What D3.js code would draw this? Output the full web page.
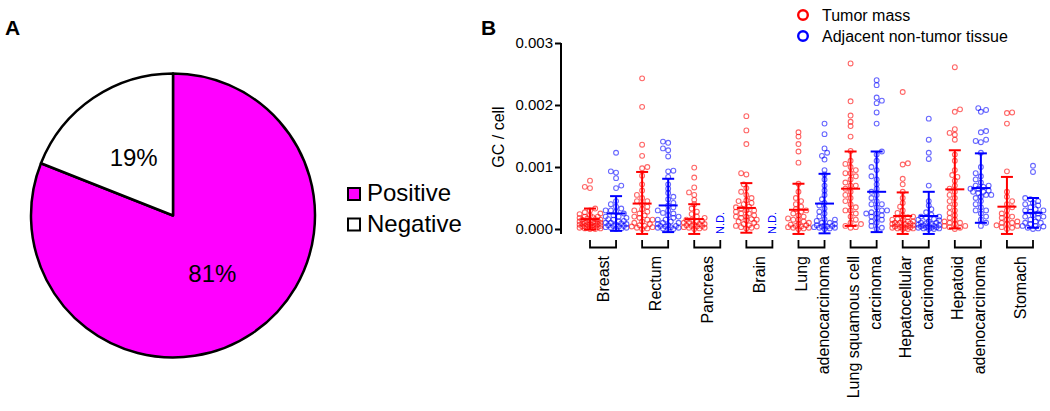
<!DOCTYPE html>
<html><head><meta charset="utf-8">
<script src="https://cdn.jsdelivr.net/npm/d3@7"></script>
<style>
html,body{margin:0;padding:0;background:#fff;}
text{font-family:"Liberation Sans",Arial,sans-serif;}
</style></head>
<body><svg id="chart" width="1050" height="411"></svg>
<script>
// ---------- DATA ----------
const pieLabels = ["Positive", "Negative"];
const pieValues = [81, 19];
const pieColors = ["#ff00ff", "#ffffff"];

const categories = [["Breast"], ["Rectum"], ["Pancreas"], ["Brain"], ["Lung", "adenocarcinoma"],
  ["Lung squamous cell", "carcinoma"], ["Hepatocellular", "carcinoma"], ["Hepatoid", "adenocarcinoma"], ["Stomach"]];
const seriesNames = ["Tumor mass", "Adjacent non-tumor tissue"];
const seriesColors = ["#ff0000", "#0000ff"];
const yTickValues = [0, 1, 2, 3];                 // in units of 0.001 GC/cell
const yTickLabels = ["0.000", "0.001", "0.002", "0.003"];

// values in units of 0.001 GC / cell
const tumorValues = [
  [0.78,0.68,0.66,0.33,0.30,0.27,0.24,0.22,0.20,0.19,0.18,0.17,0.16,0.15,0.14,0.13,0.12,0.12,0.11,0.10,0.10,0.09,0.08,0.08,0.07,0.07,0.06,0.05,0.05,0.04,0.04,0.03,0.03,0.02,0.02,0.01,0.01,0.00,0.00,0.15,0.20,0.25,0.10,0.05],
  [2.43,1.97,1.36,1.18,1.00,0.98,0.86,0.72,0.62,0.55,0.50,0.45,0.40,0.36,0.32,0.28,0.25,0.22,0.18,0.15,0.12,0.10,0.08,0.06,0.04,0.03,0.02,0.01,0.00,0.30,0.20,0.15,0.05,0.45],
  [0.99,0.83,0.67,0.59,0.55,0.47,0.40,0.33,0.28,0.24,0.20,0.18,0.15,0.13,0.11,0.10,0.08,0.07,0.06,0.05,0.04,0.03,0.02,0.02,0.01,0.00,0.12,0.05,0.15,0.08],
  [1.82,1.59,1.37,0.90,0.88,0.72,0.66,0.60,0.55,0.50,0.46,0.42,0.40,0.36,0.33,0.30,0.28,0.25,0.22,0.20,0.18,0.16,0.14,0.12,0.10,0.08,0.06,0.05,0.04,0.03,0.02,0.01,0.35,0.25,0.15,0.45,0.30,0.20],
  [1.56,1.49,1.37,1.25,1.07,0.73,0.60,0.50,0.45,0.40,0.36,0.32,0.28,0.25,0.22,0.20,0.17,0.15,0.12,0.10,0.08,0.07,0.05,0.04,0.03,0.02,0.01,0.00,0.30,0.15,0.06,0.02],
  [2.67,2.06,1.83,1.73,1.66,1.49,1.26,1.10,1.05,1.00,0.95,0.90,0.85,0.80,0.75,0.70,0.65,0.60,0.55,0.50,0.45,0.40,0.35,0.30,0.25,0.20,0.15,0.10,0.08,0.05,0.03,0.02,0.90,0.70,0.30],
  [2.21,1.06,1.04,0.81,0.72,0.60,0.50,0.42,0.36,0.30,0.26,0.22,0.19,0.16,0.14,0.12,0.10,0.09,0.08,0.07,0.06,0.05,0.04,0.03,0.03,0.02,0.02,0.01,0.01,0.00,0.00,0.15,0.20,0.10,0.05,0.12,0.08],
  [2.61,1.93,1.89,1.61,1.55,1.52,1.44,1.20,1.10,0.95,0.87,0.84,0.78,0.70,0.65,0.60,0.55,0.50,0.45,0.40,0.35,0.30,0.26,0.22,0.18,0.15,0.12,0.10,0.08,0.05,0.03,0.02,0.00,0.10,0.05],
  [1.88,1.87,1.70,0.93,0.60,0.52,0.45,0.40,0.35,0.30,0.25,0.22,0.18,0.15,0.12,0.10,0.08,0.06,0.05,0.03,0.02,0.00,0.20,0.10]
];
const adjacentValues = [
  [1.23,0.93,0.91,0.82,0.70,0.66,0.45,0.40,0.36,0.33,0.30,0.28,0.25,0.22,0.20,0.18,0.16,0.15,0.13,0.12,0.10,0.09,0.08,0.07,0.06,0.05,0.04,0.03,0.02,0.02,0.01,0.00,0.30,0.20,0.10,0.05],
  [1.41,1.39,1.30,1.27,1.17,0.94,0.93,0.84,0.72,0.65,0.58,0.52,0.48,0.42,0.38,0.35,0.30,0.26,0.22,0.20,0.18,0.15,0.12,0.10,0.08,0.06,0.05,0.04,0.03,0.02,0.01,0.00,0.25,0.15,0.10,0.05,0.30,0.02,0.00],
  null,
  null,
  [1.70,1.53,1.30,1.23,1.18,1.12,0.95,0.88,0.80,0.70,0.62,0.55,0.48,0.42,0.38,0.33,0.28,0.25,0.20,0.16,0.13,0.10,0.08,0.06,0.05,0.04,0.03,0.02,0.01,0.00,0.02,0.04,0.06,0.10,0.15],
  [2.40,2.32,2.12,2.07,2.03,1.88,1.70,1.25,1.20,1.10,1.00,0.95,0.85,0.80,0.72,0.65,0.60,0.55,0.50,0.45,0.40,0.35,0.30,0.27,0.25,0.22,0.20,0.18,0.15,0.12,0.10,0.05,0.02,0.00,0.30,0.25,0.40],
  [1.78,1.44,1.23,1.13,0.70,0.45,0.38,0.32,0.27,0.23,0.20,0.18,0.16,0.14,0.12,0.10,0.09,0.08,0.07,0.06,0.05,0.04,0.03,0.03,0.02,0.02,0.01,0.01,0.00,0.00,0.15,0.10,0.06,0.04,0.20],
  [1.95,1.92,1.89,1.58,1.56,1.44,1.42,1.40,1.23,1.00,0.90,0.85,0.80,0.75,0.70,0.68,0.65,0.62,0.60,0.58,0.55,0.52,0.50,0.45,0.40,0.35,0.30,0.25,0.20,0.15,0.10,0.05,0.30,0.65,0.70,0.55,0.60],
  [1.02,0.92,0.50,0.48,0.45,0.42,0.40,0.38,0.35,0.32,0.30,0.28,0.25,0.22,0.20,0.18,0.15,0.12,0.10,0.08,0.05,0.04,0.02,0.01,0.00,0.30,0.20,0.10,0.05]
];
// mean and SD (units of 0.001)
const tumorMean = [0.16, 0.41, 0.16, 0.34, 0.31, 0.65, 0.21, 0.64, 0.36];
const tumorSD   = [0.17, 0.51, 0.24, 0.40, 0.42, 0.60, 0.38, 0.63, 0.48];
const adjMean   = [0.25, 0.38, null, null, 0.41, 0.60, 0.21, 0.66, 0.26];
const adjSD     = [0.28, 0.43, null, null, 0.48, 0.65, 0.39, 0.56, 0.24];
const ndLabel = "N.D.";

// ---------- DRAW ----------
const svg = d3.select("#chart");

// Panel labels
svg.append("text").attr("x", 5).attr("y", 35).attr("font-size", 21).attr("font-weight", "bold").text("A");
svg.append("text").attr("x", 481).attr("y", 35).attr("font-size", 21).attr("font-weight", "bold").text("B");

// ---- Pie ----
const pieG = svg.append("g").attr("transform", "translate(173,215.5)");
const pie = d3.pie().sort(null).value(d => d)(pieValues);
const arc = d3.arc().innerRadius(0).outerRadius(142);
const labelArc = d3.arc().innerRadius(70).outerRadius(70);
pieG.selectAll("path.slice").data(pie).join("path").attr("class", "slice")
  .attr("d", arc).attr("fill", (d, i) => pieColors[i]).attr("stroke", "#000").attr("stroke-width", 2.5)
  .attr("stroke-linejoin", "round");
pieG.selectAll("text.pl").data(pie).join("text").attr("class", "pl")
  .attr("transform", d => `translate(${labelArc.centroid(d)})`)
  .attr("text-anchor", "middle").attr("dy", "0.35em").attr("font-size", 24)
  .text(d => d.value + "%");

const pieLeg = svg.append("g").attr("transform", "translate(347,187)");
pieLabels.forEach((lab, i) => {
  const g = pieLeg.append("g").attr("transform", `translate(0,${i * 30.5})`);
  g.append("rect").attr("x", 1).attr("y", 1).attr("width", 12).attr("height", 12)
    .attr("fill", pieColors[i]).attr("stroke", "#000").attr("stroke-width", 2);
  g.append("text").attr("x", 20).attr("y", 14).attr("font-size", 24).text(lab);
});

// ---- Dot plot ----
const y = d3.scaleLinear().domain([0, 3]).range([229, 43]);
const yMinVis = -0.08;
const nSlots = categories.length * 2;
const x = d3.scalePoint().domain(d3.range(nSlots)).range([590, 1033]);

const yAxis = d3.axisLeft(y).tickValues(yTickValues).tickFormat((d, i) => yTickLabels[i]).tickSize(6).tickPadding(2);
const axG = svg.append("g").attr("transform", "translate(561,0)").call(yAxis);
axG.select(".domain").attr("d", `M0,${y(3)}V${y(yMinVis)}`).attr("stroke-width", 2);
axG.selectAll(".tick line").attr("stroke-width", 2);
axG.selectAll(".tick text").attr("font-size", 15).attr("fill", "#000")
  .attr("font-family", '"Liberation Sans",Arial,sans-serif');

svg.append("text").attr("transform", "translate(504,137) rotate(-90)")
  .attr("text-anchor", "middle").attr("font-size", 16).text("GC / cell");

// beeswarm placement
const R = 2.4;
function swarm(vals, cx) {
  const placed = [];
  const sorted = vals.slice().sort((a, b) => a - b);
  const step = 2.6, maxK = 4, minD = 4.2;
  sorted.forEach(v => {
    const py = y(v);
    let best = null, bestScore = -1;
    for (let k = 0; k <= maxK; k++) {
      const offs = k === 0 ? [0] : (placed.length % 2 ? [k * step, -k * step] : [-k * step, k * step]);
      for (const o of offs) {
        let md = Infinity;
        for (const p of placed) md = Math.min(md, Math.hypot(p.x - (cx + o), p.y - py));
        if (md >= minD) { best = o; bestScore = Infinity; break; }
        if (md > bestScore) { bestScore = md; best = o; }
      }
      if (bestScore === Infinity) break;
    }
    placed.push({ x: cx + best, y: py });
  });
  return placed;
}

const dotsG = svg.append("g");
const barsG = svg.append("g");
function drawGroup(vals, mean, sd, slot, color) {
  const cx = x(slot);
  const pts = swarm(vals, cx);
  dotsG.selectAll(null).data(pts).join("circle")
    .attr("cx", d => d.x).attr("cy", d => d.y).attr("r", R)
    .attr("fill", "none").attr("stroke", color).attr("stroke-opacity", 0.6).attr("stroke-width", 1.1);
  const top = y(mean + sd), bot = y(Math.max(mean - sd, yMinVis)), m = y(mean);
  const b = barsG.append("g").attr("stroke", color).attr("stroke-width", 2).attr("fill", "none");
  b.append("line").attr("x1", cx).attr("x2", cx).attr("y1", top).attr("y2", bot);
  b.append("line").attr("x1", cx - 6).attr("x2", cx + 6).attr("y1", top).attr("y2", top);
  b.append("line").attr("x1", cx - 6).attr("x2", cx + 6).attr("y1", bot).attr("y2", bot);
  b.append("line").attr("x1", cx - 9.5).attr("x2", cx + 9.5).attr("y1", m).attr("y2", m);
}

categories.forEach((cat, i) => {
  drawGroup(tumorValues[i], tumorMean[i], tumorSD[i], 2 * i, seriesColors[0]);
  if (adjacentValues[i]) {
    drawGroup(adjacentValues[i], adjMean[i], adjSD[i], 2 * i + 1, seriesColors[1]);
  } else {
    svg.append("text").attr("transform", `translate(${x(2 * i + 1) + 4},234) rotate(-90)`)
      .attr("font-size", 11).attr("fill", seriesColors[1]).text(ndLabel);
  }
  // bracket
  const x0 = x(2 * i), x1 = x(2 * i + 1);
  svg.append("path").attr("d", `M${x0},240V247.5H${x1}V240`).attr("fill", "none")
    .attr("stroke", "#000").attr("stroke-width", 1.8);
  // label
  const cxm = (x0 + x1) / 2;
  const n = cat.length;
  cat.forEach((line, j) => {
    const lx = cxm + (j - (n - 1) / 2) * 22 + 6;
    svg.append("text").attr("transform", `translate(${lx},256) rotate(-90)`)
      .attr("text-anchor", "end").attr("font-size", 16).text(line);
  });
});

// legend
const leg = svg.append("g");
seriesNames.forEach((s, i) => {
  leg.append("circle").attr("cx", 803).attr("cy", 15 + i * 21).attr("r", 4.8)
    .attr("fill", "none").attr("stroke", seriesColors[i]).attr("stroke-width", 2.4);
  leg.append("text").attr("x", 822).attr("y", 15 + i * 21).attr("dy", "0.35em")
    .attr("font-size", 16).text(s);
});
</script></body></html>
